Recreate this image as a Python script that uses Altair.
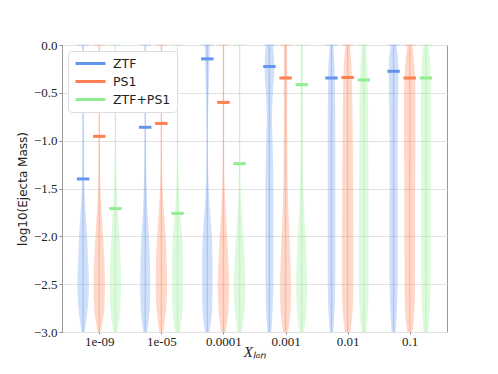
import altair as alt
import pandas as pd

categories = ["1e-09", "1e-05", "0.0001", "0.001", "0.01", "0.1"]
datasets = ["ZTF", "PS1", "ZTF+PS1"]
colors = ["#6495ED", "#FF7F50", "#90EE90"]

# y levels at which violin density profiles were read
levels = [0.0, -0.25, -0.5, -0.75, -1.0, -1.25, -1.5, -1.75, -2.0, -2.25, -2.5, -2.75, -3.0]

# relative violin density (1 = widest) per category, per dataset
ztf_dens = [
    [0.08, 0.08, 0.08, 0.08, 0.1, 0.12, 0.22, 0.45, 0.7, 0.87, 1.0, 0.82, 0.25],
    [0.08, 0.08, 0.08, 0.08, 0.1, 0.15, 0.25, 0.4, 0.65, 0.82, 0.87, 0.8, 0.35],
    [0.45, 0.35, 0.22, 0.12, 0.1, 0.12, 0.25, 0.5, 0.8, 0.9, 0.9, 0.85, 0.4],
    [0.62, 0.85, 0.6, 0.45, 0.55, 0.65, 0.7, 0.7, 0.7, 0.7, 0.68, 0.58, 0.35],
    [0.3, 0.55, 0.62, 0.65, 0.67, 0.67, 0.67, 0.67, 0.67, 0.67, 0.65, 0.55, 0.3],
    [0.5, 0.85, 0.8, 0.75, 0.7, 0.7, 0.7, 0.72, 0.72, 0.72, 0.7, 0.6, 0.35],
]
ps1_dens = [
    [0.08, 0.08, 0.08, 0.08, 0.1, 0.12, 0.2, 0.4, 0.68, 0.88, 1.0, 0.88, 0.3],
    [0.08, 0.08, 0.08, 0.08, 0.1, 0.12, 0.22, 0.45, 0.75, 0.92, 1.0, 0.85, 0.35],
    [0.1, 0.1, 0.1, 0.1, 0.1, 0.12, 0.2, 0.4, 0.65, 0.85, 1.0, 0.88, 0.4],
    [0.3, 0.32, 0.32, 0.32, 0.32, 0.35, 0.4, 0.5, 0.7, 0.85, 0.95, 0.9, 0.45],
    [0.4, 0.7, 0.8, 0.85, 0.9, 0.92, 0.95, 0.97, 1.0, 1.0, 1.0, 0.9, 0.5],
    [0.45, 0.85, 1.0, 1.0, 1.0, 0.97, 0.95, 0.95, 0.95, 0.93, 0.92, 0.85, 0.45],
]
both_dens = [
    [0.08, 0.08, 0.08, 0.08, 0.1, 0.12, 0.22, 0.45, 0.72, 0.9, 0.97, 0.88, 0.35],
    [0.08, 0.08, 0.08, 0.08, 0.1, 0.12, 0.2, 0.45, 0.82, 0.95, 0.97, 0.9, 0.4],
    [0.08, 0.08, 0.08, 0.08, 0.08, 0.1, 0.15, 0.35, 0.65, 0.87, 1.0, 0.88, 0.4],
    [0.15, 0.15, 0.15, 0.15, 0.17, 0.2, 0.3, 0.45, 0.68, 0.85, 0.95, 0.85, 0.4],
    [0.35, 0.6, 0.72, 0.75, 0.78, 0.8, 0.82, 0.84, 0.85, 0.85, 0.85, 0.75, 0.4],
    [0.4, 0.8, 0.85, 0.85, 0.85, 0.83, 0.82, 0.82, 0.82, 0.81, 0.8, 0.7, 0.4],
]

# medians
ztf_med = [-1.40, -0.86, -0.145, -0.225, -0.345, -0.275]
ps1_med = [-0.955, -0.82, -0.60, -0.345, -0.34, -0.345]
both_med = [-1.71, -1.76, -1.24, -0.415, -0.365, -0.345]

dens_all = {"ZTF": ztf_dens, "PS1": ps1_dens, "ZTF+PS1": both_dens}
med_all = {"ZTF": ztf_med, "PS1": ps1_med, "ZTF+PS1": both_med}

rows = []
for d in datasets:
    for i in range(len(categories)):
        for lv, dv in zip(levels, dens_all[d][i]):
            rows.append({"cat": i, "dataset": d, "vid": f"{d}-{i}", "level": lv, "dens": dv})
vdf = pd.DataFrame(rows)

mrows = []
for d in datasets:
    for i in range(len(categories)):
        mrows.append({"cat": i, "dataset": d, "med": med_all[d][i]})
mdf = pd.DataFrame(mrows)

center_expr = "datum.cat + (datum.dataset == 'ZTF' ? -0.26 : (datum.dataset == 'PS1' ? 0 : 0.26))"
HALF = 0.092

color_scale = alt.Scale(domain=datasets, range=colors)
xscale = alt.Scale(domain=[-0.6, 5.6], nice=False, zero=False)
yscale = alt.Scale(domain=[-3.0, 0.0], nice=False, zero=False)

label_expr = "[" + ",".join(f"'{c}'" for c in categories) + "][datum.value]"

xaxis = alt.Axis(values=list(range(len(categories))), labelExpr=label_expr, grid=False,
                 title="Xₗₐₙ", titleFont="Liberation Serif", titleFontStyle="italic",
                 titleFontSize=15, titleFontWeight="normal", titlePadding=-4,
                 tickSize=2, labelPadding=1)
yaxis = alt.Axis(values=[0.0, -0.5, -1.0, -1.5, -2.0, -2.5, -3.0], format=".1f", grid=True,
                 title="log10(Ejecta Mass)", titleFont="DejaVu Sans", titleFontSize=12,
                 titleFontWeight="normal", titlePadding=4, tickSize=3, labelPadding=2)

legend = alt.Legend(title=None, orient="top-left", symbolType="M-3,0L3,0",
                    symbolSize=100, symbolStrokeWidth=3, symbolOffset=10, labelFontSize=12.5,
                    labelFont="DejaVu Sans", labelColor="#222", symbolOpacity=1,
                    fillColor="white", strokeColor="#dddddd", cornerRadius=4,
                    padding=6, rowPadding=5, offset=6, labelOffset=16)

base_v = alt.Chart(vdf).transform_calculate(
    center=center_expr
).transform_calculate(
    lo=f"datum.center - {HALF} * datum.dens",
    hi=f"datum.center + {HALF} * datum.dens",
)

violins = base_v.mark_area(orient="horizontal", interpolate="monotone", opacity=0.3, clip=True).encode(
    y=alt.Y("level:Q", scale=yscale, axis=yaxis),
    x=alt.X("lo:Q", scale=xscale, axis=xaxis, stack=None),
    x2="hi:Q",
    color=alt.Color("dataset:N", scale=color_scale, legend=None),
    detail="vid:N",
)

extent = base_v.transform_aggregate(
    ymin="min(level)", ymax="max(level)", groupby=["vid", "dataset", "center"]
)

center_lines = extent.mark_rule(strokeWidth=1.3, opacity=0.35).encode(
    x=alt.X("center:Q", scale=xscale),
    y=alt.Y("ymin:Q", scale=yscale),
    y2="ymax:Q",
    color=alt.Color("dataset:N", scale=color_scale, legend=None),
)

caps = extent.transform_calculate(
    c1=f"datum.center - {HALF}", c2=f"datum.center + {HALF}"
).mark_rule(strokeWidth=1.3, opacity=0.25).encode(
    x=alt.X("c1:Q", scale=xscale),
    x2="c2:Q",
    y=alt.Y("ymax:Q", scale=yscale),
    color=alt.Color("dataset:N", scale=color_scale, legend=None),
)

medians = alt.Chart(mdf).transform_calculate(
    center=center_expr
).transform_calculate(
    m1="datum.center - 0.1", m2="datum.center + 0.1"
).mark_rule(strokeWidth=3).encode(
    x=alt.X("m1:Q", scale=xscale),
    x2="m2:Q",
    y=alt.Y("med:Q", scale=yscale),
    color=alt.Color("dataset:N", scale=color_scale, legend=legend),
)

chart = alt.layer(violins, center_lines, caps, medians).resolve_legend(
    color="independent"
).properties(
    width=385, height=287,
    autosize=alt.AutoSizeParams(type="none"),
    padding={"left": 54, "top": 37, "right": 43, "bottom": 34},
).configure_view(
    stroke="#999999", strokeWidth=1
).configure_axis(
    domain=False, gridColor="#e2e2e2", gridWidth=1, tickColor="#888888",
    labelFont="Liberation Serif", labelFontSize=13, labelColor="#222", titleColor="#222"
)

chart.save("out.html", embed_options={"renderer": "svg", "actions": False})
